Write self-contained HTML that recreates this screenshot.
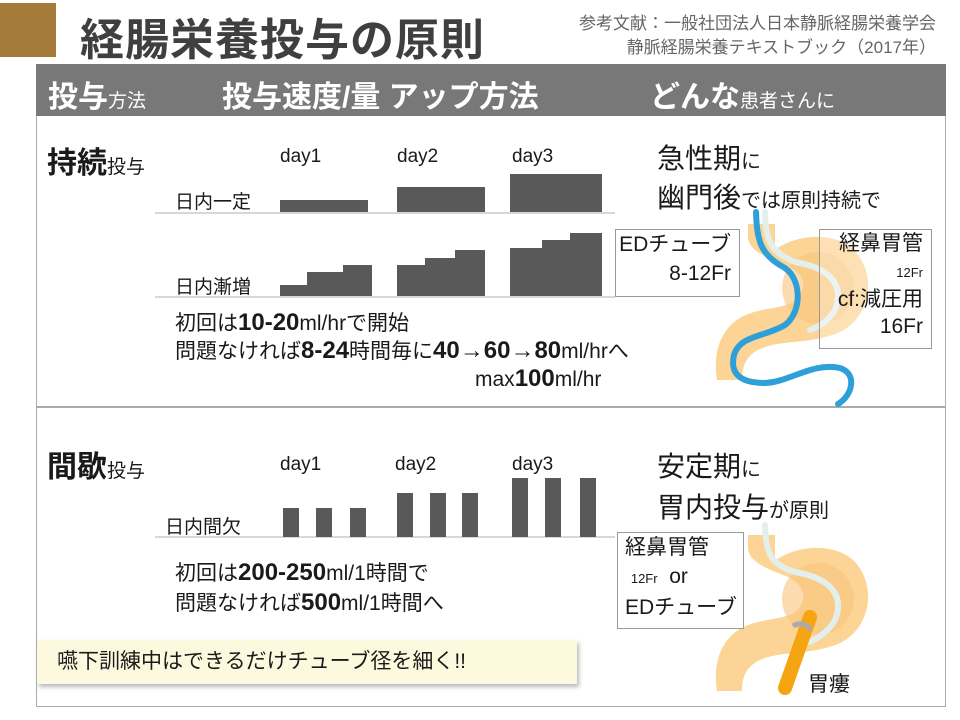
<!DOCTYPE html>
<html><head><meta charset="utf-8"><style>
body{margin:0;width:960px;height:720px;background:#fff;position:relative;overflow:hidden;font-family:"Liberation Sans","Noto Sans CJK JP",sans-serif;color:#1a1a1a}
.a{position:absolute;white-space:nowrap}
.box{position:absolute;border:1px solid #999;background:#fff}
</style></head><body>
<div class="a" style="left:0;top:3px;width:56px;height:54px;background:#a57b3c"></div>
<div class="a" style="left:80px;top:4px;font-size:44px;font-weight:bold;color:#3f3f3f;letter-spacing:1px">経腸栄養投与の原則</div>
<div class="a" style="right:24px;top:12px;font-size:17px;color:#666;text-align:right;line-height:24px">参考文献：一般社団法人日本静脈経腸栄養学会<br>静脈経腸栄養テキストブック（2017年）</div>
<div class="a" style="left:36px;top:64px;width:910px;height:52px;background:#787878"></div>
<div class="a" style="left:48px;top:72px;font-size:30px;font-weight:bold;color:#fff">投与<span style="font-size:19px;font-weight:normal">方法</span></div>
<div class="a" style="left:222px;top:72px;font-size:30px;font-weight:bold;color:#fff">投与速度/量 アップ方法</div>
<div class="a" style="left:650px;top:72px;font-size:30px;font-weight:bold;color:#fff">どんな<span style="font-size:19px;font-weight:normal">患者さんに</span></div>
<div class="a" style="left:36px;top:116px;width:908px;height:590px;border:1px solid #aaa;border-top:none"></div>
<div class="a" style="left:37px;top:406px;width:908px;height:2px;background:#aaa"></div>
<svg class="a" style="left:0;top:0" width="960" height="720">
<defs>
<path id="st" d="M748,224 L775,224 L775,250 C792,236 830,230 852,248 C878,272 872,318 838,333 C805,346 772,338 752,354 C743,362 742,372 742,380 L717,380 C714,360 716,338 734,322 C756,304 790,312 800,296 C808,282 800,272 788,266 C768,258 750,252 748,238 Z"/>
</defs>
<g stroke="#ccc" stroke-width="1.5"><line x1="155" y1="213" x2="615" y2="213"/><line x1="155" y1="297" x2="615" y2="297"/><line x1="155" y1="537" x2="615" y2="537"/></g>
<g fill="#595959">
<rect x="280" y="200" width="88" height="12"/><rect x="397" y="187" width="88" height="25"/><rect x="510" y="174" width="92" height="38"/>
<path d="M280 296V285H307V272H343V265H372V296Z"/><path d="M397 296V265H425V258H455V250H485V296Z"/><path d="M510 296V248H542V240H570V233H602V296Z"/>
<rect x="283" y="508" width="16" height="29"/><rect x="316" y="508" width="16" height="29"/><rect x="350" y="508" width="16" height="29"/>
<rect x="397" y="493" width="16" height="44"/><rect x="430" y="493" width="16" height="44"/><rect x="462" y="493" width="16" height="44"/>
<rect x="512" y="478" width="16" height="59"/><rect x="545" y="478" width="16" height="59"/><rect x="580" y="478" width="16" height="59"/>
</g>
<!-- stomach 1 -->
<use href="#st" fill="#fcd596"/>
<circle cx="818" cy="288" r="36" fill="#f8c47c" opacity=".6"/>
<path d="M765,212 C766,240 770,252 795,262 C830,268 845,285 835,310 C828,322 818,327 810,330" stroke="#e3efea" stroke-width="6" fill="none" stroke-linecap="round"/>
<path d="M756,212 C757,240 760,255 785,268 C802,280 802,312 785,325 C765,337 740,335 734,355 C730,372 738,383 765,383 C790,382 812,362 840,368 C858,374 852,396 838,404" stroke="#2e9fd8" stroke-width="6" fill="none" stroke-linecap="round"/>
<!-- stomach 2 -->
<g transform="translate(0,311)">
<use href="#st" fill="#fcd596"/>
<circle cx="818" cy="288" r="36" fill="#f8c47c" opacity=".6"/>
</g>
<path d="M765,525 C766,552 770,565 795,572 C830,578 845,595 835,620 C828,632 818,638 810,642" stroke="#e3efea" stroke-width="6" fill="none" stroke-linecap="round"/>
<path d="M810,617 L785,688" stroke="#f5a412" stroke-width="14" stroke-linecap="round"/>
<path d="M793,626 q10 -6 18 4" stroke="#aaa" stroke-width="5" fill="none"/>
</svg>
<div class="a" style="left:47px;top:138px;font-size:30px;font-weight:bold">持続<span style="font-size:19px;font-weight:normal">投与</span></div>
<div class="a" style="left:280px;top:146px;font-size:19px">day1</div>
<div class="a" style="left:397px;top:146px;font-size:19px">day2</div>
<div class="a" style="left:512px;top:146px;font-size:19px">day3</div>
<div class="a" style="left:175px;top:187px;font-size:19px">日内一定</div>
<div class="a" style="left:175px;top:272px;font-size:19px">日内漸増</div>
<div class="a" style="left:175px;top:309px;font-size:21px;line-height:27px">初回は<b style="font-size:24px">10-20</b>ml/hrで開始<br>問題なければ<b style="font-size:24px">8-24</b>時間毎に<b style="font-size:24px">40→60→80</b>ml/hrへ</div>
<div class="a" style="left:475px;top:365px;font-size:21px">max<b style="font-size:24px">100</b>ml/hr</div>
<div class="a" style="left:657px;top:141px;font-size:28px;line-height:36px">急性期<span style="font-size:20px">に</span><br>幽門後<span style="font-size:20px">では原則持続で</span></div>
<div class="box" style="left:615px;top:229px;width:125px;height:68px;font-size:21px;line-height:29px;text-align:right;padding-right:8px;box-sizing:border-box">EDチューブ<br>8-12Fr</div>
<div class="box" style="left:819px;top:229px;width:113px;height:120px;background:rgba(255,255,255,.3);font-size:21px;text-align:right;padding-right:8px;box-sizing:border-box;line-height:27px">経鼻胃管<br><span style="font-size:13px">12Fr</span><br>cf:減圧用<br>16Fr</div>
<div class="a" style="left:47px;top:442px;font-size:30px;font-weight:bold">間歇<span style="font-size:19px;font-weight:normal">投与</span></div>
<div class="a" style="left:280px;top:454px;font-size:19px">day1</div>
<div class="a" style="left:395px;top:454px;font-size:19px">day2</div>
<div class="a" style="left:512px;top:454px;font-size:19px">day3</div>
<div class="a" style="left:165px;top:512px;font-size:19px">日内間欠</div>
<div class="a" style="left:175px;top:558px;font-size:21px;line-height:29px">初回は<b style="font-size:24px">200-250</b>ml/1時間で<br>問題なければ<b style="font-size:24px">500</b>ml/1時間へ</div>
<div class="a" style="left:37px;top:640px;width:540px;height:44px;background:#fdf9df;box-shadow:2px 3px 4px #bbb;font-size:21px;line-height:44px;padding-left:20px;box-sizing:border-box">嚥下訓練中はできるだけチューブ径を細く!!</div>
<div class="a" style="left:657px;top:448px;font-size:28px;line-height:38px">安定期<span style="font-size:20px">に</span><br>胃内投与<span style="font-size:20px">が原則</span></div>
<div class="box" style="left:617px;top:532px;width:127px;height:97px;font-size:21px;line-height:29px;padding-left:7px;box-sizing:border-box">経鼻胃管<br>&nbsp;<span style="font-size:13px">12Fr</span>&nbsp; or<br>EDチューブ</div>
<div class="a" style="left:808px;top:668px;font-size:21px">胃瘻</div>
</body></html>
